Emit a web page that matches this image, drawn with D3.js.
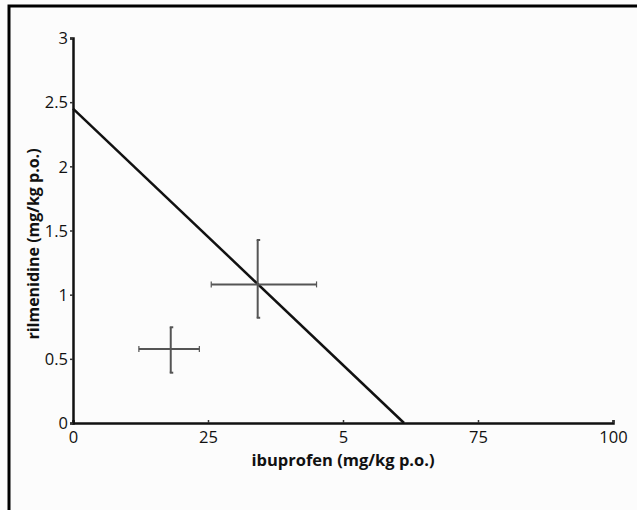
<!DOCTYPE html>
<html>
<head>
<meta charset="utf-8">
<script src="https://cdn.jsdelivr.net/npm/d3@7"></script>
<style>
  body { margin: 0; background: #fcfcfc; }
  svg { display: block; }
</style>
</head>
<body>
<svg id="viz" width="637" height="510"></svg>
<script>
(function () {
  "use strict";

  // x tick labels as printed (the "5" is really 50 in the source)
  const xTickValues = [0, 25, 50, 75, 100];
  const xTickLabels = ["0", "25", "5", "75", "100"];
  const yTickValues = [0, 0.5, 1, 1.5, 2, 2.5, 3];
  const yTickLabels = ["0", "0.5", "1", "1.5", "2", "2.5", "3"];

  // isobole (line of additivity)
  const isoboleX = [0, 61.3];
  const isoboleY = [2.45, 0];

  // experimental / theoretical points with error bars
  const pointX = [18.1, 34.2];
  const pointY = [0.577, 1.08];
  const xLow = [12.2, 25.6];
  const xHigh = [23.4, 45.1];
  const yLow = [0.392, 0.82];
  const yHigh = [0.746, 1.426];

  /*
  | Layout
  */
  let margin = { top: 38, left: 73, right: 24, bottom: 87 };
  let width = 637 - margin.left - margin.right;   // 540
  let height = 510 - margin.top - margin.bottom;  // 385

  let font = "'Open Sans', sans-serif";

  let svg = d3.select("#viz");

  // outer frame (only top and left edges show)
  svg.append("rect")
    .attr("x", 9).attr("y", 6)
    .attr("width", 700).attr("height", 600)
    .attr("fill", "none")
    .attr("stroke", "#000")
    .attr("stroke-width", 3);

  let x = d3.scaleLinear().domain([0, 100]).range([0, width]);
  let y = d3.scaleLinear().domain([0, 3]).range([height, 0]);

  let g = svg.append("g")
    .attr("transform", `translate(${margin.left} ${margin.top})`);

  /*
  | Axes
  */
  let xAxis = d3.axisBottom(x)
    .tickValues(xTickValues)
    .tickSize(-3)
    .tickPadding(8)
    .tickFormat((d, i) => xTickLabels[i]);

  let yAxis = d3.axisLeft(y)
    .tickValues(yTickValues)
    .tickSize(3)
    .tickPadding(2)
    .tickFormat((d, i) => yTickLabels[i]);

  let gx = g.append("g")
    .attr("transform", `translate(0,${height})`)
    .call(xAxis);
  let gy = g.append("g").call(yAxis);

  [gx, gy].forEach(a => {
    a.attr("font-size", null).attr("font-family", null);
    a.select(".domain").attr("stroke", "#111").attr("stroke-width", 2.5);
    a.selectAll(".tick line").attr("stroke", "#333").attr("stroke-width", 1.5);
    a.selectAll(".tick text")
      .attr("fill", "#111")
      .style("font-family", font)
      .style("font-size", "16.5px");
  });
  gy.selectAll(".tick text").attr("dy", "0.35em");

  // axis titles
  g.append("text")
    .attr("x", x(50))
    .attr("y", height + 43)
    .attr("text-anchor", "middle")
    .style("font-family", font)
    .style("font-weight", "bold")
    .style("font-size", "16.5px")
    .attr("fill", "#111")
    .text("ibuprofen (mg/kg p.o.)");

  g.append("text")
    .attr("transform", `translate(${39 - margin.left},${244 - margin.top}) rotate(-90)`)
    .attr("text-anchor", "middle")
    .style("font-family", font)
    .style("font-weight", "bold")
    .style("font-size", "16px")
    .attr("fill", "#111")
    .text("rilmenidine (mg/kg p.o.)");

  /*
  | Isobole
  */
  let line = d3.line().x(d => x(d[0])).y(d => y(d[1]));
  g.append("path")
    .datum(d3.zip(isoboleX, isoboleY))
    .attr("d", line)
    .attr("fill", "none")
    .attr("stroke", "#111")
    .attr("stroke-width", 2.5);

  /*
  | Error bars
  */
  let pts = pointX.map((px, i) => ({
    x: px, y: pointY[i],
    x0: xLow[i], x1: xHigh[i],
    y0: yLow[i], y1: yHigh[i]
  }));

  let eb = g.selectAll(".err")
    .data(pts)
    .enter()
    .append("g")
    .attr("class", "err")
    .attr("stroke", "#555")
    .attr("stroke-width", 2);

  // horizontal bar
  eb.append("line")
    .attr("x1", d => x(d.x0)).attr("x2", d => x(d.x1))
    .attr("y1", d => y(d.y)).attr("y2", d => y(d.y));
  // vertical bar
  eb.append("line")
    .attr("x1", d => x(d.x)).attr("x2", d => x(d.x))
    .attr("y1", d => y(d.y0)).attr("y2", d => y(d.y1));

  // caps on x bars
  ["x0", "x1"].forEach(k => {
    eb.append("line")
      .attr("stroke-width", 1.2)
      .attr("x1", d => x(d[k])).attr("x2", d => x(d[k]))
      .attr("y1", d => y(d.y) - 3).attr("y2", d => y(d.y) + 3);
  });
  // caps on y bars
  ["y0", "y1"].forEach(k => {
    eb.append("line")
      .attr("stroke-width", 2)
      .attr("x1", d => x(d.x) - 1).attr("x2", d => x(d.x) + 2.5)
      .attr("y1", d => y(d[k])).attr("y2", d => y(d[k]));
  });

})();
</script>
</body>
</html>
